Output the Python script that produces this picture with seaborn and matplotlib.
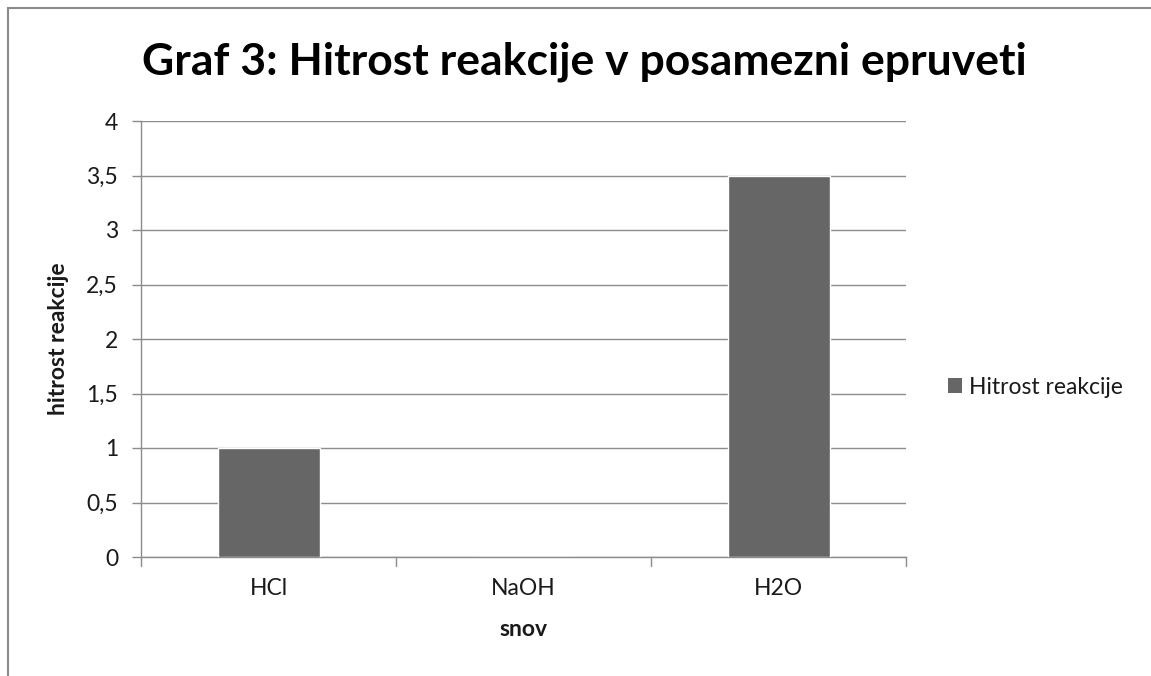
import matplotlib
matplotlib.use("Agg")
import matplotlib.pyplot as plt
import seaborn as sns
import pandas as pd
from matplotlib.lines import Line2D
from matplotlib.patches import Patch
from matplotlib.ticker import FuncFormatter, MultipleLocator

# data
snovi = ["HCl", "NaOH", "H2O"]
hitrost = [1.0, 0.0, 3.5]
serija = "Hitrost reakcije"

df = pd.DataFrame({"snov": snovi, "hitrost": hitrost})

sns.set_theme(style="white")
plt.rcParams["font.family"] = ["Lato", "DejaVu Sans"]

fig = plt.figure(figsize=(11.51, 6.76), dpi=100)
ax = fig.add_axes([141 / 1151, 1 - 557 / 676, 765 / 1151, 436 / 676])

bar_col = "#666666"
grid_col = "#8c8c8c"
txt_col = "#1a1a1a"
fs = 16.5

sns.barplot(data=df, x="snov", y="hitrost", color=bar_col, width=0.4,
            saturation=1, ax=ax, zorder=3)

ax.set_xlim(-0.5, 2.5)
ax.set_ylim(0, 4)
ax.yaxis.set_major_locator(MultipleLocator(0.5))
ax.yaxis.set_major_formatter(FuncFormatter(lambda v, p: f"{v:g}".replace(".", ",")))
ax.grid(axis="y", color=grid_col, linewidth=1, zorder=0)
ax.grid(axis="x", visible=False)

for side in ["top", "right"]:
    ax.spines[side].set_visible(False)
for side in ["left", "bottom"]:
    ax.spines[side].set_color(grid_col)
    ax.spines[side].set_linewidth(1)

ax.set_xticks([0, 1, 2])
ax.set_xticklabels(snovi)
ax.tick_params(axis="x", length=0, pad=15, labelsize=fs, colors=txt_col)
ax.tick_params(axis="y", length=6.5, width=1, color=grid_col, pad=10,
               labelsize=fs, labelcolor=txt_col, left=True)
# category boundary ticks like Excel
for b in [-0.5, 0.5, 1.5, 2.5]:
    ax.plot([b, b], [0, -0.021], transform=ax.get_xaxis_transform(),
            color=grid_col, linewidth=1, clip_on=False)

ax.set_xlabel("snov", fontsize=fs, fontweight="bold", color=txt_col)
ax.set_ylabel("hitrost reakcije", fontsize=fs, fontweight="bold", color=txt_col)
ax.xaxis.set_label_coords(0.5, -0.142)
ax.yaxis.set_label_coords(-0.094, 0.5)

fig.text(584 / 1151, 1 - 75 / 676, "Graf 3: Hitrost reakcije v posamezni epruveti",
         ha="center", va="baseline", fontsize=32, fontweight="bold", color="black")

handles = [Patch(facecolor=bar_col, edgecolor="none", label=serija)]
fig.legend(handles=handles, loc="center left", bbox_to_anchor=(948 / 1151, 1 - 387 / 676),
           frameon=False, fontsize=fs, handlelength=0.62, handleheight=0.62,
           handletextpad=0.3, borderpad=0, borderaxespad=0, labelcolor=txt_col)

# chart area border (top and left visible)
fig.add_artist(Line2D([8 / 1151, 1.0], [1 - 8 / 676, 1 - 8 / 676],
                      transform=fig.transFigure, color="#8a8a8a", linewidth=1.5))
fig.add_artist(Line2D([8 / 1151, 8 / 1151], [0.0, 1 - 8 / 676],
                      transform=fig.transFigure, color="#8a8a8a", linewidth=1.5))

fig.savefig("out.png", dpi=100, facecolor="white")
